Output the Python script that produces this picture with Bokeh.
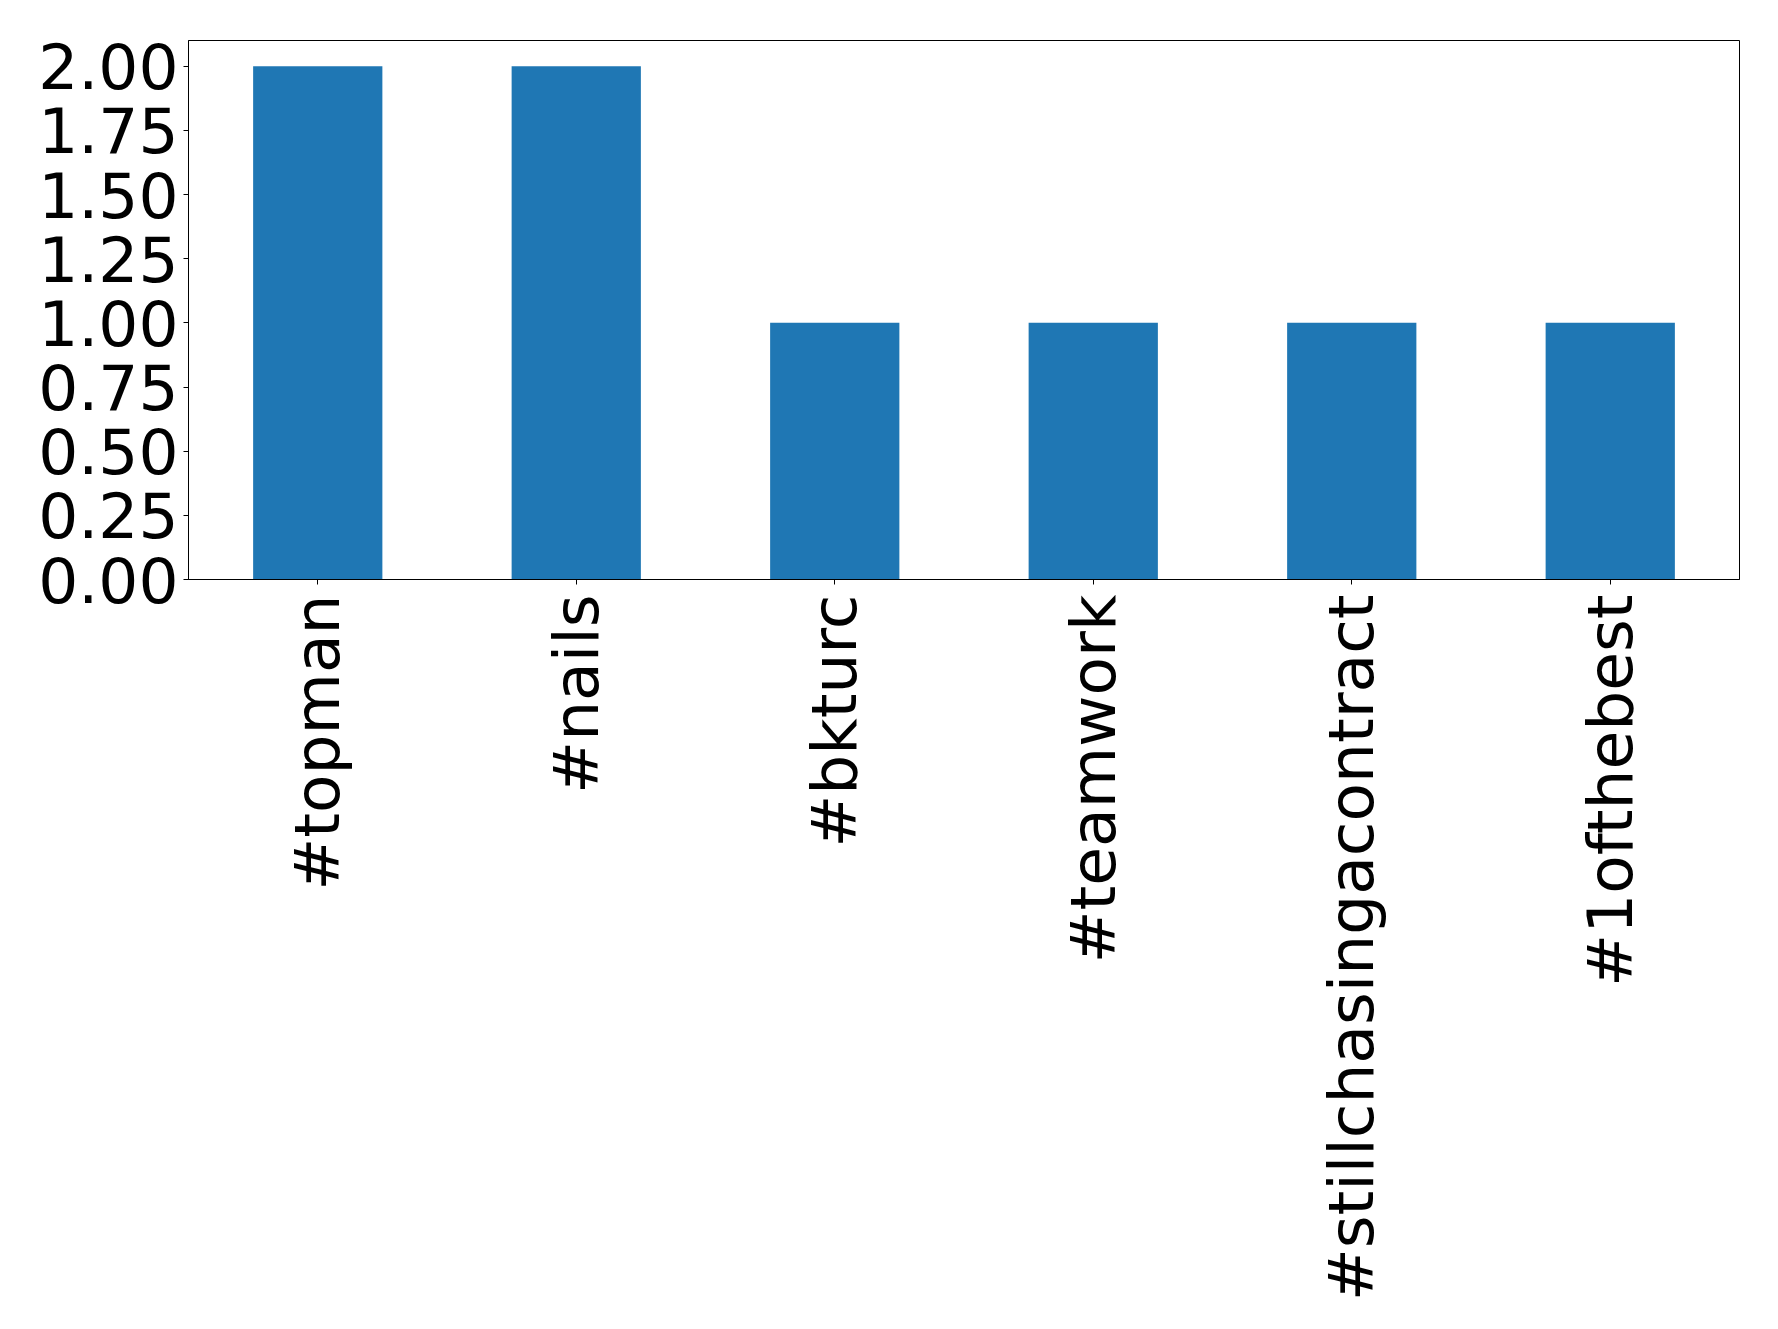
from bokeh.plotting import figure
from bokeh.models import FactorRange, Range1d, FixedTicker, NumeralTickFormatter, ColumnDataSource
from bokeh.embed import file_html
from bokeh.resources import INLINE
import math

hashtags = ["#topman", "#nails", "#bkturc", "#teamwork", "#stillchasingacontract", "#1ofthebest"]
counts = [2, 2, 1, 1, 1, 1]
y_ticks = [0.0, 0.25, 0.5, 0.75, 1.0, 1.25, 1.5, 1.75, 2.0]

src = ColumnDataSource(dict(tag=hashtags, count=counts))

p = figure(width=1762, height=1321, output_backend="svg", toolbar_location=None,
           x_range=FactorRange(factors=hashtags, range_padding=0),
           y_range=Range1d(0, 2.1),
           min_border_left=188, min_border_right=23, min_border_top=40,
           min_border_bottom=742)

p.vbar(x="tag", top="count", width=0.5, source=src, color="#1f77b4", line_color=None)

p.xgrid.visible = False
p.ygrid.visible = False
p.outline_line_color = "black"
p.outline_line_width = 1
p.background_fill_color = "white"
p.border_fill_color = "white"

for ax in (p.xaxis[0], p.yaxis[0]):
    ax.axis_line_color = "black"
    ax.axis_line_width = 1
    ax.major_tick_in = 0
    ax.major_tick_out = 5
    ax.major_tick_line_color = "black"
    ax.minor_tick_line_color = None
    ax.major_label_standoff = 5
    ax.major_label_text_font = "DejaVu Sans"
    ax.major_label_text_font_size = "63px"
    ax.major_label_text_color = "black"

p.yaxis[0].ticker = FixedTicker(ticks=y_ticks)
p.yaxis[0].formatter = NumeralTickFormatter(format="0.00")
p.xaxis[0].major_label_orientation = math.pi / 2
p.xaxis[0].major_label_standoff = 10

open("out.html", "w").write(file_html(p, INLINE))
